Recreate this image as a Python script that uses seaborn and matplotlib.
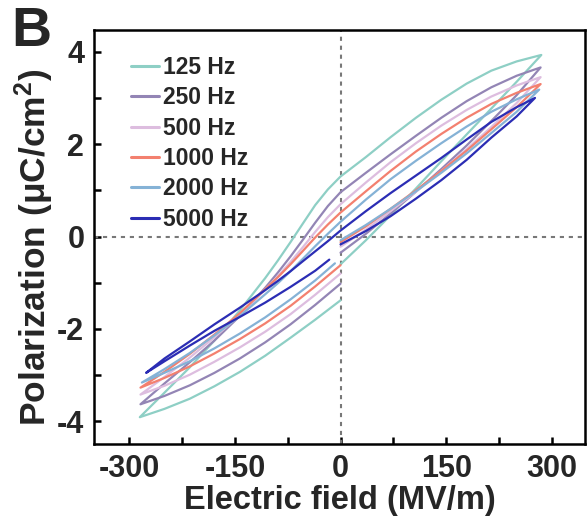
import matplotlib
matplotlib.use("Agg")
import matplotlib.pyplot as plt
import seaborn as sns
import pandas as pd
from matplotlib.ticker import MultipleLocator
from matplotlib.lines import Line2D

# ---------------- data ----------------
freqs = ["125 Hz", "250 Hz", "500 Hz", "1000 Hz", "2000 Hz", "5000 Hz"]
colors = ["#8ECFC5", "#9385B5", "#DDBDDF", "#F3806F", "#85B2D6", "#2B2DB4"]

# E path: start at 0, up to +Emax, down to -Emax, back towards 0
E_rise = [0, 36, 71, 107, 143, 179, 214, 250]
E_fall = [250, 214, 179, 143, 107, 71, 36, 0, -18, -36, -54, -71, -89, -107, -143, -179, -214, -250]
E_back = [-250, -214, -179, -143, -107, -71, -36]

tips = {"125 Hz": 285, "250 Hz": 284, "500 Hz": 284, "1000 Hz": 284, "2000 Hz": 282, "5000 Hz": 276}
ends = {"125 Hz": 0, "250 Hz": 0, "500 Hz": 0, "1000 Hz": 0, "2000 Hz": -8, "5000 Hz": -16}

P_125_rise = [-0.60, -0.08, 0.46, 1.04, 1.63, 2.21, 2.77, 3.35, 3.93]
P_125_fall = [3.79, 3.59, 3.31, 2.96, 2.57, 2.15, 1.72, 1.30, 1.02, 0.68, 0.27, -0.12, -0.52, -0.90,
              -1.60, -2.25, -2.83, -3.38, -3.91]
P_125_back = [-3.73, -3.51, -3.24, -2.93, -2.58, -2.19, -1.80, -1.38]

P_250_rise = [-0.35, 0.06, 0.50, 0.97, 1.46, 1.97, 2.50, 3.06, 3.66]
P_250_fall = [3.48, 3.23, 2.93, 2.57, 2.18, 1.78, 1.38, 0.96, 0.66, 0.30, -0.08, -0.43, -0.78, -1.11,
              -1.72, -2.25, -2.72, -3.18, -3.63]
P_250_back = [-3.45, -3.22, -2.95, -2.64, -2.29, -1.90, -1.48, -1.02]

P_500_rise = [-0.22, 0.15, 0.55, 0.97, 1.42, 1.89, 2.37, 2.89, 3.45]
P_500_fall = [3.27, 3.03, 2.74, 2.40, 2.02, 1.61, 1.17, 0.70, 0.42, 0.10, -0.24, -0.55, -0.86, -1.15,
              -1.70, -2.18, -2.62, -3.04, -3.42]
P_500_back = [-3.23, -2.99, -2.71, -2.40, -2.06, -1.68, -1.26, -0.80]

P_1000_rise = [-0.12, 0.22, 0.60, 1.00, 1.42, 1.86, 2.32, 2.80, 3.30]
P_1000_fall = [3.11, 2.87, 2.57, 2.22, 1.84, 1.42, 0.98, 0.52, 0.26, -0.02, -0.32, -0.60, -0.88, -1.14,
               -1.66, -2.12, -2.54, -2.93, -3.27]
P_1000_back = [-3.06, -2.81, -2.53, -2.22, -1.88, -1.50, -1.08, -0.62]

P_2000_rise = [-0.08, 0.25, 0.60, 0.98, 1.38, 1.80, 2.24, 2.70, 3.18]
P_2000_fall = [2.97, 2.70, 2.38, 2.02, 1.64, 1.24, 0.80, 0.32, 0.06, -0.21, -0.49, -0.75, -1.01, -1.25,
               -1.72, -2.14, -2.52, -2.87, -3.16]
P_2000_back = [-2.95, -2.70, -2.42, -2.10, -1.75, -1.36, -0.95, -0.58]

P_5000_rise = [-0.17, 0.12, 0.44, 0.82, 1.22, 1.66, 2.14, 2.60, 3.00]
P_5000_fall = [2.80, 2.48, 2.10, 1.70, 1.32, 0.94, 0.55, 0.13, -0.10, -0.32, -0.54, -0.75, -0.96, -1.16,
               -1.54, -1.90, -2.27, -2.64, -2.95]
P_5000_back = [-2.70, -2.36, -2.04, -1.74, -1.43, -1.09, -0.74, -0.50]

P_series = {
    "125 Hz": (P_125_rise, P_125_fall, P_125_back),
    "250 Hz": (P_250_rise, P_250_fall, P_250_back),
    "500 Hz": (P_500_rise, P_500_fall, P_500_back),
    "1000 Hz": (P_1000_rise, P_1000_fall, P_1000_back),
    "2000 Hz": (P_2000_rise, P_2000_fall, P_2000_back),
    "5000 Hz": (P_5000_rise, P_5000_fall, P_5000_back),
}

rows = []
for f in freqs:
    r, fa, b = P_series[f]
    tip = tips[f]
    Es = E_rise + [tip] + E_fall + [-tip] + E_back + [ends[f]]
    Ps = r + fa + b
    for i, (e, p) in enumerate(zip(Es, Ps)):
        rows.append({"freq": f, "order": i, "E": e, "P": p})
df = pd.DataFrame(rows)

# ---------------- style ----------------
sns.set_style("ticks")
plt.rcParams["font.family"] = ["Liberation Sans", "DejaVu Sans"]
plt.rcParams["font.weight"] = "bold"
plt.rcParams["axes.unicode_minus"] = False
plt.rcParams["mathtext.fontset"] = "custom"
plt.rcParams["mathtext.rm"] = "Liberation Sans:bold"
plt.rcParams["mathtext.default"] = "rm"

fig = plt.figure(figsize=(5.88, 5.29), dpi=100)
ax = fig.add_axes([94 / 588, 1 - 444 / 529, (585 - 94) / 588, (444 - 30) / 529])

# zero reference lines
ax.axhline(0, color="#787878", lw=1.5, ls=(0, (2.0, 2.3)), zorder=1)
ax.axvline(0, color="#787878", lw=1.5, ls=(0, (2.0, 2.3)), zorder=1)

sns.lineplot(data=df, x="E", y="P", hue="freq", hue_order=freqs,
             palette=colors, sort=False, estimator=None, units="freq",
             lw=1.6, ax=ax, legend=False, zorder=3)

ax.set_xlim(-350, 347)
ax.set_ylim(-4.49, 4.47)
ax.xaxis.set_major_locator(MultipleLocator(150))
ax.xaxis.set_minor_locator(MultipleLocator(75))
ax.yaxis.set_major_locator(MultipleLocator(2))
ax.yaxis.set_minor_locator(MultipleLocator(1))

for s in ax.spines.values():
    s.set_linewidth(1.8)
    s.set_color("black")
    s.set_visible(True)

ax.tick_params(which="both", direction="in", width=1.8, color="black",
               top=False, right=False)
ax.tick_params(which="major", length=5, labelsize=22, pad=7)
ax.tick_params(which="minor", length=5)
for lab in ax.get_xticklabels() + ax.get_yticklabels():
    lab.set_fontweight("bold")

ax.set_xlabel("Electric field (MV/m)", fontsize=23.5, fontweight="bold")
ax.set_ylabel("Polarization (μC/cm$^2$)", fontsize=25.5, fontweight="bold")
ax.xaxis.set_label_coords(0.5, -0.1)
ax.yaxis.set_label_coords(-0.078, 0.476)

handles = [Line2D([0], [0], color=c, lw=2.2) for c in colors]
leg = ax.legend(handles, freqs, loc="upper left", bbox_to_anchor=(0.075, 0.937),
                frameon=False, borderaxespad=0, borderpad=0,
                handlelength=1.25, handletextpad=0.15, labelspacing=0.32,
                prop={"size": 16.5, "weight": "bold"})

fig.text(11 / 588, 1 - 46 / 529, "B", fontsize=40, fontweight="bold",
         ha="left", va="baseline")

fig.savefig("out.png", dpi=100)
